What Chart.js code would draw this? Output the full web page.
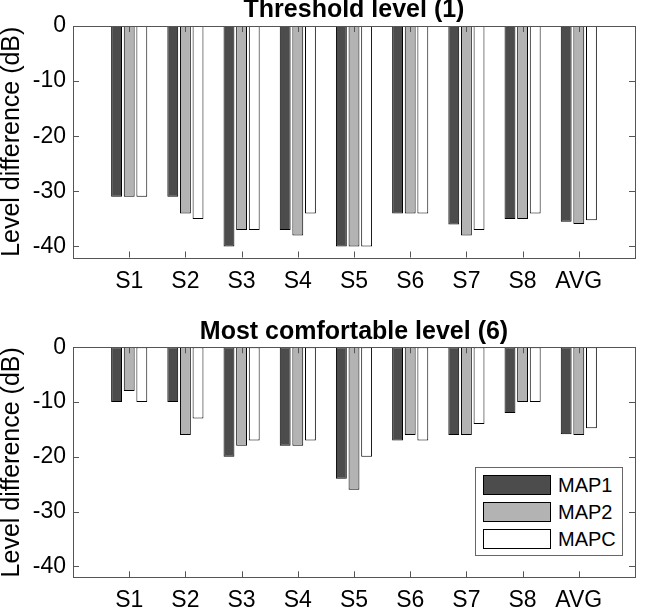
<!DOCTYPE html>
<html><head><meta charset="utf-8">
<script src="https://cdn.jsdelivr.net/npm/chart.js@4.4.1/dist/chart.umd.min.js"></script>
<style>
html,body{margin:0;padding:0;background:#fff;width:645px;height:611px;overflow:hidden;position:relative;font-family:"Liberation Sans",Arial,sans-serif}
.wrap{position:absolute;left:0;width:645px}
canvas{display:block}
#legend{position:absolute;left:475px;top:467px;width:148px;height:89px;border:1px solid #666;background:#fff;box-sizing:border-box}
.item{position:absolute;left:7px;height:20px;width:140px}
.sw{position:absolute;left:0;top:0;width:68px;height:20px;border:1px solid #000;box-sizing:border-box}
.lb{position:absolute;left:75px;top:-1px;font-size:20px;line-height:22px;color:#000}
</style></head>
<body>
<div class="wrap" style="top:-2px;height:300px"><canvas id="c1" width="645" height="300"></canvas></div>
<div class="wrap" style="top:320px;height:291px"><canvas id="c2" width="645" height="291"></canvas></div>
<div id="legend"></div>
<script>
const categories = ['S1','S2','S3','S4','S5','S6','S7','S8','AVG'];
const seriesNames = ['MAP1','MAP2','MAPC'];
const seriesColors = ['#4c4c4c','#b3b3b3','#ffffff'];
const yTicks = [0,-10,-20,-30,-40];
const titleTop = 'Threshold level (1)';
const titleBottom = 'Most comfortable level (6)';
const yLabel = 'Level difference (dB)';

const thresholdMAP1 = [-31,-31,-40,-37,-40,-34,-36,-35,-35.5];
const thresholdMAP2 = [-31,-34,-37,-38,-40,-34,-38,-35,-35.9];
const thresholdMAPC = [-31,-35,-37,-34,-40,-34,-37,-34,-35.25];

const comfortMAP1 = [-10,-10,-20,-18,-24,-17,-16,-12,-15.9];
const comfortMAP2 = [-8,-16,-18,-18,-26,-16,-16,-10,-16];
const comfortMAPC = [-10,-13,-17,-17,-20,-17,-14,-10,-14.8];

const FONT = '"Liberation Sans", Arial, Helvetica, sans-serif';

const framePlugin = {
  id: 'frame',
  afterDatasetsDraw(chart) {
    const {ctx, chartArea: a, scales: {x, y}} = chart;
    const L = 6;
    ctx.save();
    ctx.strokeStyle = '#555';
    ctx.lineWidth = 1;
    ctx.beginPath();
    x.ticks.forEach((t, i) => {
      if (!t.label) return;
      const px = Math.round(x.getPixelForTick(i)) + 0.5;
      ctx.moveTo(px, a.bottom); ctx.lineTo(px, a.bottom - L);
      ctx.moveTo(px, a.top); ctx.lineTo(px, a.top + L);
    });
    y.ticks.forEach((t, i) => {
      const py = Math.round(y.getPixelForTick(i)) + 0.5;
      ctx.moveTo(a.left, py); ctx.lineTo(a.left + L, py);
      ctx.moveTo(a.right, py); ctx.lineTo(a.right - L, py);
    });
    ctx.stroke();
    ctx.strokeRect(Math.round(a.left) + 0.5, Math.round(a.top) + 0.5,
                   Math.round(a.right - a.left), Math.round(a.bottom - a.top));
    ctx.restore();
  }
};

function makeChart(id, title, series, titleBottomPad, xHeight) {
  const labels = [''].concat(categories, ['']);
  const datasets = series.map((vals, k) => ({
    label: seriesNames[k],
    data: [null].concat(vals, [null]),
    backgroundColor: seriesColors[k],
    borderColor: '#000',
    borderWidth: 1,
    borderSkipped: false,
    categoryPercentage: 0.674,
    barPercentage: 0.86
  }));
  return new Chart(document.getElementById(id), {
    type: 'bar',
    data: {labels, datasets},
    plugins: [framePlugin],
    options: {
      responsive: false,
      animation: false,
      events: [],
      layout: {padding: {left: 0, right: 1, top: 0, bottom: 0}},
      plugins: {
        legend: {display: false},
        tooltip: {enabled: false},
        title: {
          display: true, text: title, color: '#000', fullSize: false,
          font: {family: FONT, size: 25, weight: 'bold', lineHeight: 1},
          padding: {top: 0, bottom: titleBottomPad}
        }
      },
      scales: {
        x: {
          type: 'category',
          offset: false,
          grid: {display: false, drawTicks: false},
          border: {display: false},
          ticks: {autoSkip: false, maxRotation: 0, color: '#000', padding: 10,
                  font: {family: FONT, size: 23}},
          afterFit(s) { s.height = xHeight; }
        },
        y: {
          min: -42, max: 0,
          grid: {display: false, drawTicks: false},
          border: {display: false},
          afterBuildTicks(s) { s.ticks = yTicks.map(v => ({value: v})); },
          ticks: {color: '#000', padding: 7, font: {family: FONT, size: 23}},
          title: {display: true, text: yLabel, color: '#000',
                  font: {family: FONT, size: 25, lineHeight: 1}, padding: {top: 0, bottom: 0}},
          afterFit(s) { s.width = 73; }
        }
      }
    }
  });
}

makeChart('c1', titleTop, [thresholdMAP1, thresholdMAP2, thresholdMAPC], 3, 40.5);
makeChart('c2', titleBottom, [comfortMAP1, comfortMAP2, comfortMAPC], 2.3, 33.7);

const legend = document.getElementById('legend');
seriesNames.forEach((name, k) => {
  const it = document.createElement('div');
  it.className = 'item';
  it.style.top = (7 + k * 27) + 'px';
  const sw = document.createElement('div');
  sw.className = 'sw';
  sw.style.background = seriesColors[k];
  const lb = document.createElement('div');
  lb.className = 'lb';
  lb.textContent = name;
  it.appendChild(sw); it.appendChild(lb);
  legend.appendChild(it);
});
</script>
</body></html>
